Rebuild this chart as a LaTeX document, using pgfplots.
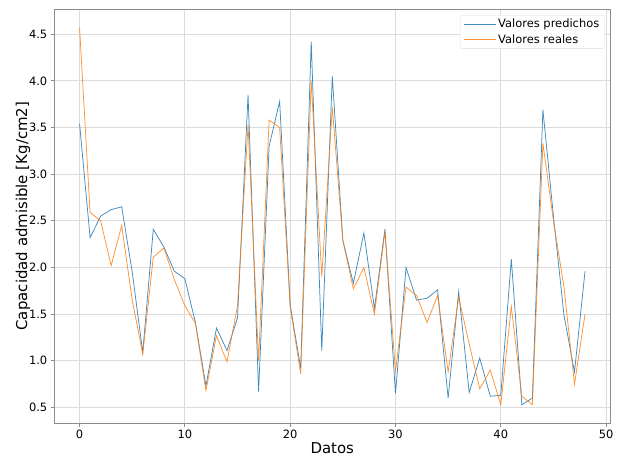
\documentclass[border=0pt]{standalone}
\usepackage{pgfplots}
\pgfplotsset{compat=1.18}
\usepackage{fontspec}
\setmainfont{DejaVu Sans}
\definecolor{mblue}{HTML}{1F77B4}
\definecolor{morange}{HTML}{FF7F0E}
\definecolor{spine}{HTML}{8C8C8C}
\definecolor{gridc}{HTML}{DCDCDC}
\begin{document}
\begin{tikzpicture}
\begin{axis}[
  name=ax,
  scale only axis,
  width=556bp, height=414.3bp,
  xmin=-2.4, xmax=50.4, ymin=0.33, ymax=4.77,
  xtick={0,10,20,30,40,50},
  ytick={0.5,1.0,1.5,2.0,2.5,3.0,3.5,4.0,4.5},
  yticklabel style={/pgf/number format/.cd,fixed,fixed zerofill,precision=1},
  /pgf/number format/assume math mode=true,
  tick label style={font=\fontsize{11.5}{13}\selectfont},
  label style={font=\fontsize{15}{18}\selectfont},
  xlabel={Datos},
  ylabel={Capacidad admisible [Kg/cm2]},
  xlabel style={yshift=3bp},
  ylabel style={yshift=-8bp},
  grid=major,
  major grid style={gridc, line width=0.8bp},
  axis line style={spine, line width=0.9bp},
  tick align=outside,
  major tick length=3.5bp,
  tick style={spine, line width=0.8bp},
  xtick pos=bottom, ytick pos=left,
  legend cell align=left,
  legend style={at={(rel axis cs:0.9895,0.9855)}, anchor=north east,
    draw=gridc, rounded corners=2bp, font=\fontsize{11.5}{14}\selectfont,
    inner xsep=3bp, inner ysep=2bp, row sep=1bp},
  legend image code/.code={\draw[#1] (0bp,0bp) -- (32bp,0bp);},
]
\addplot[mblue, line width=0.75bp, opacity=0.85] coordinates {
(0,3.54) (1,2.32) (2,2.55) (3,2.62) (4,2.65) (5,1.95) (6,1.09) (7,2.41) (8,2.22) (9,1.96)
(10,1.88) (11,1.41) (12,0.73) (13,1.35) (14,1.11) (15,1.46) (16,3.85) (17,0.67) (18,3.30) (19,3.78)
(20,1.60) (21,0.92) (22,4.42) (23,1.11) (24,4.05) (25,2.29) (26,1.83) (27,2.37) (28,1.56) (29,2.41)
(30,0.65) (31,2.00) (32,1.65) (33,1.67) (34,1.76) (35,0.60) (36,1.74) (37,0.66) (38,1.03) (39,0.62)
(40,0.63) (41,2.09) (42,0.53) (43,0.60) (44,3.69) (45,2.55) (46,1.49) (47,0.88) (48,1.96)
};
\addlegendentry{Valores predichos}
\addplot[morange, line width=0.75bp, opacity=0.85] coordinates {
(0,4.57) (1,2.59) (2,2.50) (3,2.02) (4,2.45) (5,1.65) (6,1.07) (7,2.11) (8,2.21) (9,1.87)
(10,1.59) (11,1.40) (12,0.68) (13,1.27) (14,0.99) (15,1.59) (16,3.53) (17,1.00) (18,3.58) (19,3.50)
(20,1.58) (21,0.86) (22,4.00) (23,1.90) (24,3.72) (25,2.29) (26,1.77) (27,2.00) (28,1.50) (29,2.38)
(30,0.89) (31,1.79) (32,1.70) (33,1.41) (34,1.70) (35,0.88) (36,1.68) (37,1.18) (38,0.70) (39,0.90)
(40,0.53) (41,1.58) (42,0.62) (43,0.53) (44,3.33) (45,2.50) (46,1.79) (47,0.75) (48,1.50)
};
\addlegendentry{Valores reales}
\end{axis}
\pgfresetboundingbox
\useasboundingbox ([xshift=-54.3bp,yshift=-33.7bp]ax.south west) rectangle ([xshift=8.7bp,yshift=9bp]ax.north east);
\end{tikzpicture}
\end{document}
